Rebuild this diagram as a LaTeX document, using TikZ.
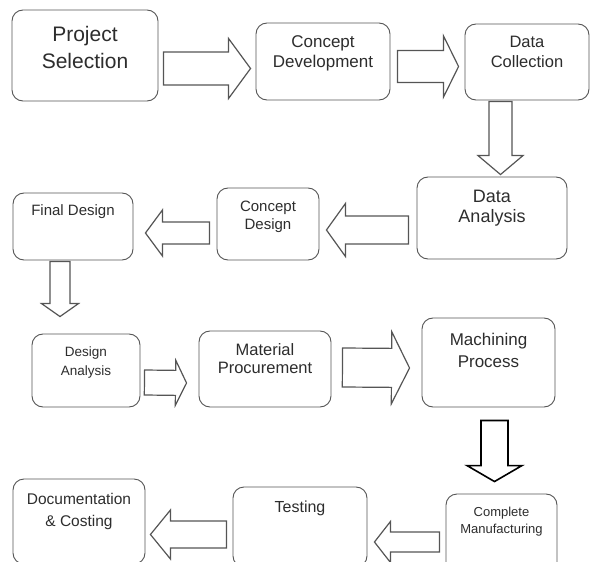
\documentclass[tikz,border=0pt]{standalone}
\usepackage{fontspec}
\setmainfont{Liberation Sans}
\usetikzlibrary{calc,positioning}
\definecolor{boxgray}{RGB}{85,85,85}
\definecolor{inkgray}{RGB}{45,45,45}

\newcommand{\setfs}[2]{\fontsize{#1}{#2}\selectfont}
% hollow block arrow: [opts]{from}{to}{shaft half}{head half}{head length}
\newcommand{\fatarrow}[6][]{%
  \coordinate (fa-s) at #2;
  \coordinate (fa-e) at #3;
  \coordinate (fa-h) at ($(fa-e)!#6!(fa-s)$);
  \draw[fat,#1] ($(fa-s)!#4!90:(fa-e)$) -- ($(fa-h)!#4!90:(fa-e)$) -- ($(fa-h)!#5!90:(fa-e)$) -- (fa-e)
    -- ($(fa-h)!#5!-90:(fa-e)$) -- ($(fa-h)!#4!-90:(fa-e)$) -- ($(fa-s)!#4!-90:(fa-e)$) -- cycle;
}

\begin{document}
\begin{tikzpicture}[x=1pt, y=-1pt,
    box/.style={draw=boxgray, line width=0.9pt, rounded corners=11pt, fill=white},
    txt/.style={text=inkgray, align=center, inner sep=0pt},
    fat/.style={draw=boxgray, line width=1.2pt, fill=white}
]
\useasboundingbox (0,0) rectangle (590,562);
\clip (0,0) rectangle (590,562);

% row 1
\node[box, minimum width=146pt, minimum height=91pt,
  label={[txt, font=\setfs{21}{27}, below=17pt]north:Project\\Selection}] (ps) at (85,55.5) {};
\node[box, minimum width=134pt, minimum height=77pt,
  label={[txt, font=\setfs{17}{20}, below=12.5pt]north:Concept\\Development}] (cd) at (323,61.5) {};
\node[box, minimum width=124pt, minimum height=76pt,
  label={[txt, font=\setfs{16.5}{20}, below=12pt]north:Data\\Collection}] (dc) at (527,62) {};

% row 2
\node[box, minimum width=150pt, minimum height=82pt,
  label={[txt, font=\setfs{18}{20}, below=13pt]north:Data\\Analysis}] (da) at (492,218) {};
\node[box, minimum width=102pt, minimum height=72pt,
  label={[txt, font=\setfs{15}{18}, below=13.5pt]north:Concept\\Design}] (cg) at (268,224) {};
\node[box, minimum width=120pt, minimum height=67pt,
  label={[txt, font=\setfs{15}{18}, below=11.5pt]north:Final Design}] (fd) at (73,226.5) {};

% row 3
\node[box, minimum width=108pt, minimum height=73pt,
  label={[txt, font=\setfs{13.5}{19}, below=13pt]north:Design\\Analysis}] (dn) at (86,370.5) {};
\node[box, minimum width=132pt, minimum height=76pt,
  label={[txt, font=\setfs{16.5}{18}, below=13pt]north:Material\\Procurement}] (mp) at (265,369) {};
\node[box, minimum width=133pt, minimum height=89pt,
  label={[txt, font=\setfs{17}{22}, below=15.5pt]north:Machining\\Process}] (mc) at (488.5,362.5) {};

% row 4
\node[box, minimum width=111pt, minimum height=80pt,
  label={[txt, font=\setfs{13}{17}, below=13pt]north:Complete\\Manufacturing}] (cm) at (501.5,534) {};
\node[box, minimum width=134pt, minimum height=80pt,
  label={[txt, font=\setfs{16}{19}, below=14pt]north:Testing}] (ts) at (300,527) {};
\node[box, minimum width=132pt, minimum height=85pt,
  label={[txt, font=\setfs{15.5}{22}, below=15pt]north:Documentation\\\& Costing}] (dcs) at (79,521.5) {};

% block arrows
\fatarrow{($(ps.east)+(5,13)$)}{($(cd.west)+(-5,7)$)}{16.5pt}{30pt}{22pt}
\fatarrow{($(cd.east)+(7,5)$)}{($(dc.west)+(-6,4.5)$)}{16pt}{30.5pt}{15pt}
\fatarrow{($(dc.south)+(-26.5,1)$)}{($(da.north)+(8.5,-2)$)}{11.5pt}{22.5pt}{19pt}
\fatarrow{($(da.west)+(-8,12)$)}{($(cg.east)+(7,6)$)}{14pt}{26.5pt}{19pt}
\fatarrow{($(cg.west)+(-7,9)$)}{($(fd.east)+(12,6.5)$)}{11pt}{23pt}{17pt}
\fatarrow{($(fd.south)+(-13,1)$)}{($(dn.north)+(-26,-17)$)}{10pt}{18.5pt}{13pt}
\fatarrow{($(dn.east)+(4,12)$)}{($(mp.west)+(-12,14)$)}{12.5pt}{22.5pt}{11pt}
\fatarrow{($(mp.east)+(11,-1.5)$)}{($(mc.west)+(-12,5.5)$)}{19.5pt}{36pt}{18pt}
\fatarrow[draw=black, line width=1.6pt]{($(mc.south)+(6,13)$)}{($(cm.north)+(-7,-12)$)}{13.5pt}{27.5pt}{16pt}
\fatarrow{($(cm.west)+(-6,8)$)}{($(ts.east)+(7,15)$)}{10pt}{20.5pt}{16pt}
\fatarrow{($(ts.west)+(-6,7.5)$)}{($(dcs.east)+(5,13)$)}{13.5pt}{24.5pt}{20pt}
\end{tikzpicture}
\end{document}
